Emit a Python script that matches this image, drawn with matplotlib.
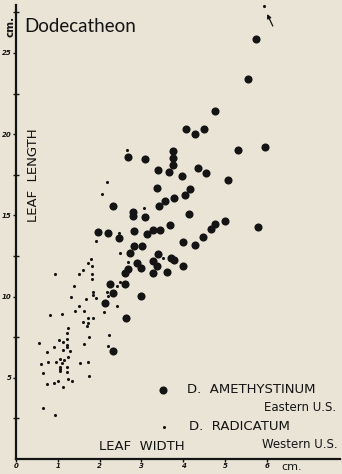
import matplotlib
matplotlib.use('Agg')
import matplotlib.pyplot as plt

# leaf width (cm) / leaf length (cm)
amethystinum_width = [5.73, 5.54, 4.75, 4.07, 4.29, 4.49, 2.67, 3.09, 3.76, 3.76,
                      3.76, 5.31, 5.96, 3.39, 3.67, 3.98, 4.36, 4.55, 5.06, 3.37,
                      4.16, 4.05, 3.77, 3.56, 3.41, 2.33, 2.81, 2.79, 3.09, 4.15,
                      3.69, 5.00, 4.76, 4.67, 5.78, 2.82, 3.28, 3.44, 3.14, 4.48,
                      1.97, 2.21, 2.47, 4.00, 4.29, 2.82, 3.01, 2.73, 3.40, 3.70,
                      3.79, 3.28, 3.38, 2.89, 2.99, 3.99, 2.69, 2.61, 3.28, 3.62,
                      2.25, 2.61, 2.31, 2.99, 2.13, 2.63, 2.31]
amethystinum_length = [25.84, 23.40, 21.41, 20.30, 20.03, 20.32, 18.58, 18.45, 18.97, 18.52,
                       18.10, 19.03, 19.19, 17.80, 17.69, 17.43, 17.90, 17.59, 17.18, 16.71,
                       16.64, 16.26, 16.09, 15.91, 15.58, 15.58, 15.23, 14.96, 14.92, 15.07,
                       14.41, 14.64, 14.47, 14.16, 14.30, 14.06, 14.10, 14.10, 13.85, 13.65,
                       14.00, 13.92, 13.58, 13.36, 13.20, 13.13, 13.10, 12.67, 12.60, 12.40,
                       12.25, 12.19, 11.90, 12.09, 11.74, 11.88, 11.70, 11.47, 11.43, 11.50,
                       10.76, 10.76, 10.19, 10.04, 9.62, 8.66, 6.67]

radicatum_width = [5.94, 2.66, 2.17, 2.05, 3.05, 2.47, 1.91, 2.49, 3.52, 2.69,
                   2.49, 2.41, 2.41, 1.79, 1.72, 1.81, 1.61, 1.50, 0.94, 1.81,
                   1.81, 1.39, 1.83, 1.83, 2.18, 2.21, 1.32, 1.92, 1.68, 1.50,
                   1.63, 1.42, 2.10, 0.81, 1.10, 1.72, 1.83, 1.61, 1.73, 1.69,
                   1.25, 1.21, 1.74, 2.22, 1.21, 1.04, 1.13, 0.55, 1.23, 1.23,
                   0.92, 1.12, 1.30, 1.63, 2.19, 0.73, 1.24, 1.05, 1.15, 0.95,
                   0.76, 0.59, 1.09, 1.05, 1.05, 1.05, 1.23, 1.23, 1.52, 1.73,
                   0.65, 1.74, 1.25, 1.35, 1.00, 0.90, 0.73, 1.13, 0.65, 0.94]
radicatum_length = [27.89, 19.03, 17.04, 16.32, 15.46, 13.90, 13.42, 12.70, 12.36, 12.11,
                    10.92, 10.68, 9.42, 12.32, 12.05, 11.90, 11.64, 11.37, 11.41, 11.39,
                    11.08, 10.63, 10.30, 10.07, 10.30, 10.04, 9.96, 9.91, 9.85, 9.42,
                    9.13, 9.09, 9.02, 8.89, 8.91, 8.68, 8.65, 8.45, 8.39, 8.19,
                    8.07, 7.78, 7.53, 7.62, 7.38, 7.32, 7.19, 7.16, 7.02, 6.88,
                    6.88, 6.71, 6.67, 7.08, 6.98, 6.61, 6.26, 6.14, 6.08, 5.99,
                    5.99, 5.87, 5.89, 5.68, 5.52, 5.42, 5.65, 5.38, 5.93, 5.95,
                    5.28, 5.09, 4.90, 4.79, 4.80, 4.68, 4.64, 4.42, 3.12, 2.71]

x_ticks = [0, 1, 2, 3, 4, 5, 6]
y_major = [5, 10, 15, 20, 25]
y_minor = [2.5, 7.5, 12.5, 17.5, 22.5, 27.5]

BG = '#e9e4d6'
INK = '#141414'
TITLE_FONT = ['Lato', 'DejaVu Sans']
LABEL_FONT = ['DejaVu Sans']

fig = plt.figure(figsize=(3.42, 4.74), dpi=100, facecolor=BG)
ax = fig.add_axes([16 / 342, 15 / 474, 324 / 342, 454 / 474])
ax.set_facecolor(BG)

ax.scatter(amethystinum_width, amethystinum_length, s=34, c=INK, lw=0, clip_on=False)
ax.scatter(radicatum_width, radicatum_length, s=5, c=INK, lw=0, clip_on=False)

# arrow pointing at the off-scale radicatum leaf
ax.annotate('', xy=(5.98, 27.55), xytext=(6.17, 26.5),
            arrowprops=dict(arrowstyle='-|>', color=INK, lw=0.9, mutation_scale=6),
            annotation_clip=False)

ax.set_xlim(0, 7.75)
ax.set_ylim(0, 27.95)

for side in ['top', 'right']:
    ax.spines[side].set_visible(False)
for side in ['left', 'bottom']:
    ax.spines[side].set_linewidth(1.6)
    ax.spines[side].set_color(INK)

ax.set_xticks(x_ticks)
ax.set_xticklabels([str(t) for t in x_ticks], fontsize=5, fontstyle='italic',
                   fontweight='bold')
ax.set_yticks(y_major)
ax.set_yticklabels([str(t) for t in y_major], fontsize=5, fontstyle='italic',
                   fontweight='bold')
ax.set_yticks(y_minor, minor=True)
ax.tick_params(axis='both', which='both', colors=INK, width=1.0)
ax.tick_params(axis='x', direction='out', length=2, pad=1)
ax.tick_params(axis='y', which='major', direction='out', length=2, pad=1)
ax.tick_params(axis='y', which='minor', direction='inout', length=4)

# labels and titles placed in data coordinates
ax.text(6.6, -0.2, 'cm.', fontsize=8, family=LABEL_FONT, color=INK,
        ha='center', va='top', clip_on=False)
ax.text(-0.14, 26.6, 'cm.', fontsize=7.5, family=LABEL_FONT, color=INK, rotation=90,
        ha='center', va='center', clip_on=False, fontweight='bold')
ax.text(0.2, 26.6, 'Dodecatheon', fontsize=13.5, family=TITLE_FONT, color=INK,
        ha='left', va='center')
ax.text(0.43, 17.5, 'LEAF  LENGTH', fontsize=9.5, family=LABEL_FONT, color=INK,
        rotation=90, ha='center', va='center')
ax.text(3.01, 0.8, 'LEAF  WIDTH', fontsize=9.5, family=LABEL_FONT, color=INK,
        ha='center', va='center')

# hand-drawn key
ax.scatter([3.51], [4.25], s=34, c=INK, lw=0)
ax.scatter([3.54], [1.99], s=5, c=INK, lw=0)
ax.text(4.09, 4.25, 'D.  AMETHYSTINUM', fontsize=9.5, family=LABEL_FONT, color=INK,
        ha='left', va='center')
ax.text(7.66, 3.14, 'Eastern U.S.', fontsize=8.5, family=LABEL_FONT, color=INK,
        ha='right', va='center')
ax.text(4.14, 2.03, 'D.  RADICATUM', fontsize=9.5, family=LABEL_FONT, color=INK,
        ha='left', va='center')
ax.text(7.70, 0.92, 'Western U.S.', fontsize=8.5, family=LABEL_FONT, color=INK,
        ha='right', va='center')

fig.savefig('out.png', dpi=100, facecolor=BG)
